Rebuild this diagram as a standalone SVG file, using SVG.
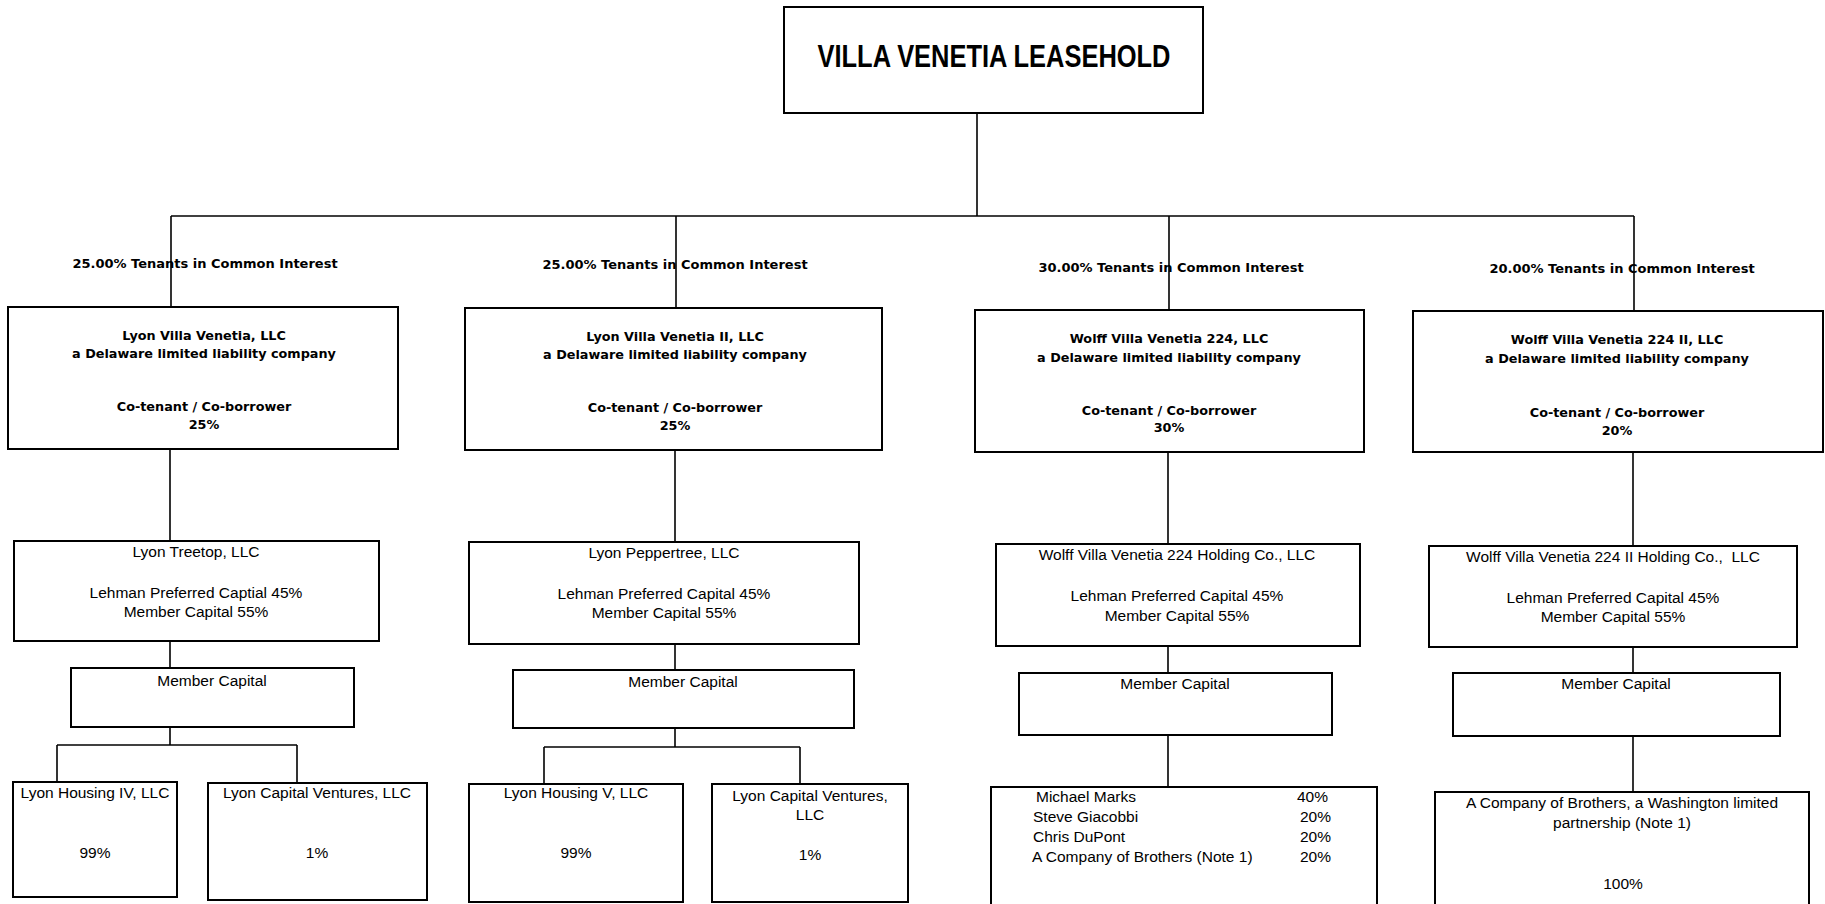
<svg xmlns="http://www.w3.org/2000/svg" width="1825" height="904" viewBox="0 0 1825 904">
<style>
  .box { fill: #ffffff; stroke: #000000; stroke-width: 2; }
  .conn line { stroke: #000000; stroke-width: 1.6; }
  .title { font-family: "Liberation Sans", Arial, sans-serif; font-weight: bold; font-size: 31px; fill: #000; }
  .b { font-family: "DejaVu Sans", Verdana, sans-serif; font-weight: bold; font-size: 12.8px; fill: #000; }
  .lbl { font-family: "DejaVu Sans", Verdana, sans-serif; font-weight: bold; font-size: 13px; fill: #000; }
  .r { font-family: "Liberation Sans", Arial, sans-serif; font-size: 15.5px; fill: #000; }
  .c { text-anchor: middle; }
</style>
<rect width="1825" height="904" fill="#ffffff"/>

<g id="connectors" class="conn">
  <line x1="977" y1="113" x2="977" y2="216"/>
  <line x1="171" y1="216" x2="1634" y2="216"/>
  <line x1="171" y1="216" x2="171" y2="307"/>
  <line x1="676" y1="216" x2="676" y2="308"/>
  <line x1="1169" y1="216" x2="1169" y2="310"/>
  <line x1="1634" y1="216" x2="1634" y2="311"/>
  <line x1="170" y1="449" x2="170" y2="541"/>
  <line x1="675" y1="450" x2="675" y2="542"/>
  <line x1="1168" y1="452" x2="1168" y2="544"/>
  <line x1="1633" y1="452" x2="1633" y2="546"/>
  <line x1="170" y1="641" x2="170" y2="668"/>
  <line x1="675" y1="644" x2="675" y2="670"/>
  <line x1="1168" y1="646" x2="1168" y2="673"/>
  <line x1="1633" y1="647" x2="1633" y2="673"/>
  <line x1="170" y1="727" x2="170" y2="745"/>
  <line x1="57" y1="745" x2="297" y2="745"/>
  <line x1="57" y1="745" x2="57" y2="782"/>
  <line x1="297" y1="745" x2="297" y2="783"/>
  <line x1="675" y1="728" x2="675" y2="747"/>
  <line x1="544" y1="747" x2="800" y2="747"/>
  <line x1="544" y1="747" x2="544" y2="784"/>
  <line x1="800" y1="747" x2="800" y2="784"/>
  <line x1="1168" y1="735" x2="1168" y2="787"/>
  <line x1="1633" y1="736" x2="1633" y2="792"/>
</g>

<g id="labels">
  <text class="lbl c" x="205" y="268">25.00% Tenants in Common Interest</text>
  <text class="lbl c" x="675" y="269">25.00% Tenants in Common Interest</text>
  <text class="lbl c" x="1171" y="272">30.00% Tenants in Common Interest</text>
  <text class="lbl c" x="1622" y="273">20.00% Tenants in Common Interest</text>
</g>

<g id="villa-venetia-leasehold">
  <rect class="box" x="784" y="7" width="419" height="106"/>
  <text class="title c" x="994" y="67" textLength="353" lengthAdjust="spacingAndGlyphs">VILLA VENETIA LEASEHOLD</text>
</g>

<g id="lyon-villa-venetia">
  <rect class="box" x="8" y="307" width="390" height="142"/>
  <text class="b c" x="204" y="340">Lyon Villa Venetia, LLC</text>
  <text class="b c" x="204" y="358">a Delaware limited liability company</text>
  <text class="b c" x="204" y="411">Co-tenant / Co-borrower</text>
  <text class="b c" x="204" y="429">25%</text>
</g>

<g id="lyon-villa-venetia-ii">
  <rect class="box" x="465" y="308" width="417" height="142"/>
  <text class="b c" x="675" y="341">Lyon Villa Venetia II, LLC</text>
  <text class="b c" x="675" y="359">a Delaware limited liability company</text>
  <text class="b c" x="675" y="412">Co-tenant / Co-borrower</text>
  <text class="b c" x="675" y="430">25%</text>
</g>

<g id="wolff-villa-venetia-224">
  <rect class="box" x="975" y="310" width="389" height="142"/>
  <text class="b c" x="1169" y="343">Wolff Villa Venetia 224, LLC</text>
  <text class="b c" x="1169" y="362">a Delaware limited liability company</text>
  <text class="b c" x="1169" y="415">Co-tenant / Co-borrower</text>
  <text class="b c" x="1169" y="432">30%</text>
</g>

<g id="wolff-villa-venetia-224-ii">
  <rect class="box" x="1413" y="311" width="410" height="141"/>
  <text class="b c" x="1617" y="344">Wolff Villa Venetia 224 II, LLC</text>
  <text class="b c" x="1617" y="363">a Delaware limited liability company</text>
  <text class="b c" x="1617" y="417">Co-tenant / Co-borrower</text>
  <text class="b c" x="1617" y="435">20%</text>
</g>

<g id="lyon-treetop">
  <rect class="box" x="14" y="541" width="365" height="100"/>
  <text class="r c" x="196" y="557">Lyon Treetop, LLC</text>
  <text class="r c" x="196" y="598">Lehman Preferred Captial 45%</text>
  <text class="r c" x="196" y="617">Member Capital 55%</text>
</g>

<g id="lyon-peppertree">
  <rect class="box" x="469" y="542" width="390" height="102"/>
  <text class="r c" x="664" y="558">Lyon Peppertree, LLC</text>
  <text class="r c" x="664" y="599">Lehman Preferred Capital 45%</text>
  <text class="r c" x="664" y="618">Member Capital 55%</text>
</g>

<g id="wolff-holding">
  <rect class="box" x="996" y="544" width="364" height="102"/>
  <text class="r c" x="1177" y="560">Wolff Villa Venetia 224 Holding Co., LLC</text>
  <text class="r c" x="1177" y="601">Lehman Preferred Capital 45%</text>
  <text class="r c" x="1177" y="621">Member Capital 55%</text>
</g>

<g id="wolff-ii-holding">
  <rect class="box" x="1429" y="546" width="368" height="101"/>
  <text class="r c" x="1613" y="562" xml:space="preserve">Wolff Villa Venetia 224 II Holding Co.,  LLC</text>
  <text class="r c" x="1613" y="603">Lehman Preferred Capital 45%</text>
  <text class="r c" x="1613" y="622">Member Capital 55%</text>
</g>

<g id="member-capital-1">
  <rect class="box" x="71" y="668" width="283" height="59"/>
  <text class="r c" x="212" y="686">Member Capital</text>
</g>
<g id="member-capital-2">
  <rect class="box" x="513" y="670" width="341" height="58"/>
  <text class="r c" x="683" y="687">Member Capital</text>
</g>
<g id="member-capital-3">
  <rect class="box" x="1019" y="673" width="313" height="62"/>
  <text class="r c" x="1175" y="689">Member Capital</text>
</g>
<g id="member-capital-4">
  <rect class="box" x="1453" y="673" width="327" height="63"/>
  <text class="r c" x="1616" y="689">Member Capital</text>
</g>

<g id="lyon-housing-iv">
  <rect class="box" x="13" y="782" width="164" height="115"/>
  <text class="r c" x="95" y="798">Lyon Housing IV, LLC</text>
  <text class="r c" x="95" y="858">99%</text>
</g>
<g id="lyon-capital-ventures-1">
  <rect class="box" x="208" y="783" width="219" height="117"/>
  <text class="r c" x="317" y="798">Lyon Capital Ventures, LLC</text>
  <text class="r c" x="317" y="858">1%</text>
</g>
<g id="lyon-housing-v">
  <rect class="box" x="469" y="784" width="214" height="118"/>
  <text class="r c" x="576" y="798">Lyon Housing V, LLC</text>
  <text class="r c" x="576" y="858">99%</text>
</g>
<g id="lyon-capital-ventures-2">
  <rect class="box" x="712" y="784" width="196" height="118"/>
  <text class="r c" x="810" y="801">Lyon Capital Ventures,</text>
  <text class="r c" x="810" y="820">LLC</text>
  <text class="r c" x="810" y="860">1%</text>
</g>

<g id="wolff-members">
  <rect class="box" x="991" y="787" width="386" height="120"/>
  <text class="r" x="1036" y="802">Michael Marks</text>
  <text class="r" x="1297" y="802">40%</text>
  <text class="r" x="1033" y="822">Steve Giacobbi</text>
  <text class="r" x="1300" y="822">20%</text>
  <text class="r" x="1033" y="842">Chris DuPont</text>
  <text class="r" x="1300" y="842">20%</text>
  <text class="r" x="1032" y="862">A Company of Brothers (Note 1)</text>
  <text class="r" x="1300" y="862">20%</text>
</g>

<g id="company-of-brothers">
  <rect class="box" x="1435" y="792" width="374" height="115"/>
  <text class="r c" x="1622" y="808">A Company of Brothers, a Washington limited</text>
  <text class="r c" x="1622" y="828">partnership (Note 1)</text>
  <text class="r c" x="1623" y="889">100%</text>
</g>
</svg>
